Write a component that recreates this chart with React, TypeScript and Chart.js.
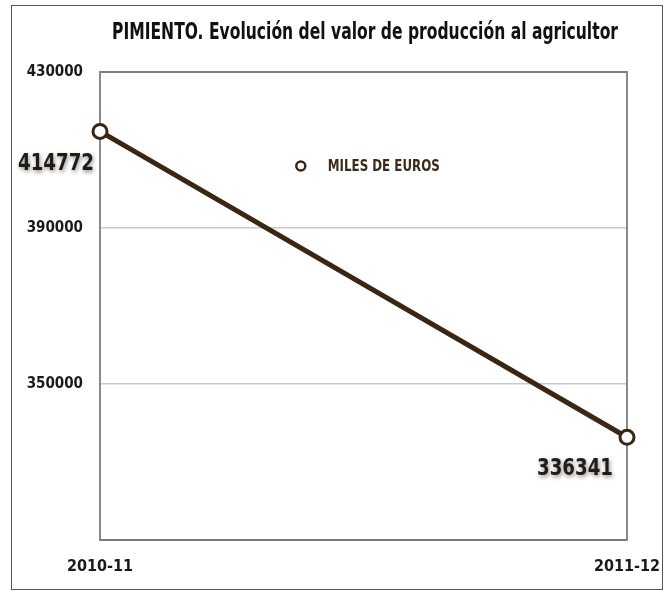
import React, { useEffect, useRef } from "react";
import { Chart, registerables } from "chart.js";

Chart.register(...registerables);

const categories = ["2010-11", "2011-12"];
const values = [414772, 336341];
const seriesName = "MILES DE EUROS";
const titleText = "PIMIENTO. Evolución del valor de producción al agricultor";
const yMin = 310000;
const yMax = 430000;
const yStep = 40000;

const FONT = "'DejaVu Sans Condensed', 'DejaVu Sans', sans-serif";
const LINE = "#3a2713";
const TEXT = "#231c14";

const labelOffsets = [
  { dx: -44, dy: 33 },
  { dx: -52, dy: 32 },
];

const overlayPlugin = {
  id: "overlay",
  afterDatasetsDraw(chart: any) {
    const ctx = chart.ctx;
    const meta = chart.getDatasetMeta(0);
    const area = chart.chartArea;
    ctx.save();
    // title
    ctx.font = `bold 23px ${FONT}`;
    ctx.textAlign = "center";
    ctx.textBaseline = "middle";
    ctx.fillStyle = "#111111";
    ctx.fillText(titleText, 365, 33, 506);
    // data labels
    ctx.font = `bold 23px ${FONT}`;
    meta.data.forEach((pt: any, i: number) => {
      const off = labelOffsets[i];
      ctx.shadowColor = "rgba(0,0,0,0.45)";
      ctx.shadowBlur = 4;
      ctx.shadowOffsetX = 1;
      ctx.shadowOffsetY = 2;
      ctx.fillStyle = TEXT;
      ctx.fillText(String(values[i]), pt.x + off.dx, pt.y + off.dy, 76);
    });
    ctx.shadowColor = "transparent";
    ctx.shadowBlur = 0;
    ctx.shadowOffsetX = 0;
    ctx.shadowOffsetY = 0;
    // legend
    const lx = area.left + (area.right - area.left) * 0.381;
    const ly = area.top + 94;
    ctx.beginPath();
    ctx.arc(lx, ly, 4.5, 0, Math.PI * 2);
    ctx.fillStyle = "#ffffff";
    ctx.fill();
    ctx.lineWidth = 2.5;
    ctx.strokeStyle = LINE;
    ctx.stroke();
    ctx.font = `bold 16px ${FONT}`;
    ctx.textAlign = "left";
    ctx.fillStyle = "#3a2a1a";
    ctx.fillText(seriesName, lx + 27, ly + 1, 112);
    ctx.restore();
  },
};

export default function App() {
  const ref = useRef<HTMLCanvasElement | null>(null);
  useEffect(() => {
    if (!ref.current) return;
    const chart = new Chart(ref.current, {
      type: "line",
      data: {
        labels: categories,
        datasets: [
          {
            label: seriesName,
            data: values,
            borderColor: LINE,
            borderWidth: 5,
            pointRadius: 7,
            pointBorderWidth: 3,
            pointBackgroundColor: "#ffffff",
            pointBorderColor: LINE,
            tension: 0,
          },
        ],
      },
      options: {
        animation: false,
        responsive: false,
        maintainAspectRatio: false,
        layout: { padding: { left: 0, right: 41, top: 72, bottom: 0 } },
        plugins: {
          legend: { display: false },
          tooltip: { enabled: false },
          title: { display: false },
        },
        scales: {
          x: {
            offset: false,
            grid: { display: false, drawTicks: false },
            border: { display: true, color: "#7a7a7a", width: 2 },
            ticks: {
              color: "#1a1a1a",
              font: { family: FONT, size: 16, weight: "bold" },
              padding: 17,
              maxRotation: 0,
              autoSkip: false,
            },
            afterFit: (s: any) => {
              s.height = 53;
              s.paddingLeft = 0;
              s.paddingRight = 0;
            },
          },
          y: {
            min: yMin,
            max: yMax,
            grid: {
              color: (c: any) => (c.tick && c.tick.value === yMax ? "#7a7a7a" : "#c9c9c9"),
              lineWidth: (c: any) => (c.tick && c.tick.value === yMax ? 2 : 1.5),
              drawTicks: false,
            },
            border: { display: true, color: "#8a8a8a", width: 2 },
            ticks: {
              stepSize: yStep,
              color: "#1a1a1a",
              font: { family: FONT, size: 15, weight: "bold" },
              padding: 17,
              callback: (v: any) => (v === yMin ? "" : String(v)),
            },
            afterFit: (s: any) => {
              s.width = 100;
            },
          },
          y2: {
            position: "right",
            display: true,
            min: yMin,
            max: yMax,
            grid: { display: false, drawTicks: false },
            border: { display: true, color: "#8a8a8a", width: 2 },
            ticks: { display: false },
            afterFit: (s: any) => {
              s.width = 0;
              s.paddingTop = 0;
              s.paddingBottom = 0;
            },
          },
        },
      },
      plugins: [overlayPlugin],
    });
    return () => chart.destroy();
  }, []);
  return (
    <div style={{ position: "fixed", left: 0, top: 0, width: 668, height: 593, background: "#ffffff" }}>
      <canvas ref={ref} width={668} height={593} style={{ position: "absolute", left: 0, top: 0 }} />
      <div
        style={{
          position: "absolute",
          left: 11,
          top: 5,
          width: 650,
          height: 583,
          border: "1px solid #555555",
          pointerEvents: "none",
        }}
      />
    </div>
  );
}
